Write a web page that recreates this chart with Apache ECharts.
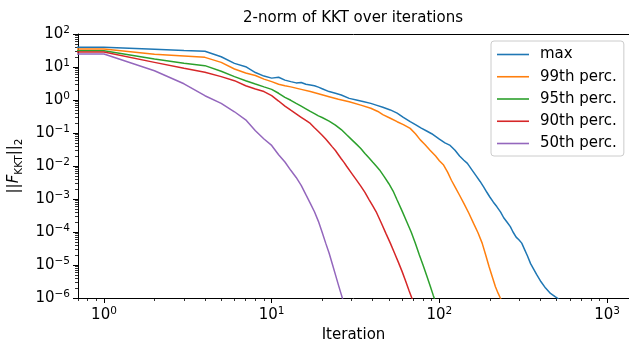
<!DOCTYPE html>
<html><head><meta charset="utf-8">
<script src="https://cdn.jsdelivr.net/npm/echarts@6/dist/echarts.min.js"></script>
<style>html,body{margin:0;padding:0;background:#fff}#c{width:629px;height:341px}</style>
</head><body><div id="c"></div>
<script>
// ---- data (iteration 0 shown at the far left is stored as 0.5, it lies outside the log axis and is clipped) ----
const seriesNames = ['max', '99th perc.', '95th perc.', '90th perc.', '50th perc.'];
const itersMax = [0.5,1,2,3,4,5,6,7,8,9,10,11,12,13,14,15,16,17,18,19,20,22,24,26,29,32,35,39,42,46,51,56,61,67,72,78,84,90,100,108,116,124,132,140,147,156,165,175,184,192,200,210,220,232,242,253,265,275,287,298,310,320,335,350,365,380,404,430,460,490,520];
const valsMax = [39.5,39.5,34.4,31.6,29.9,20.5,12.9,10.2,6.8,5.3,4.6,4.9,4.0,3.6,3.3,3.4,3.0,2.85,2.7,2.45,2.2,1.8,1.6,1.42,1.12,1.0,0.9,0.79,0.7,0.6,0.5,0.4,0.3,0.22,0.18,0.14,0.115,0.095,0.065,0.05,0.042,0.03,0.02,0.015,0.012,0.0078,0.0052,0.0034,0.0023,0.0016,0.00115,8e-4,5.9e-4,4e-4,2.7e-4,2e-4,1.45e-4,1e-4,7e-5,5.8e-5,4.6e-5,3.2e-5,1.9e-5,1.1e-5,7.5e-6,5.2e-6,3.1e-6,2e-6,1.38e-6,1.1e-6,9e-7];
const itersP99 = [0.5,1,2,3,4,5,6,7,8,9,10,11,12,13,15,17,19,22,25,29,34,39,43,46,51,56,61,67,72,77,82,88,95,100,106,112,118,124,132,140,150,160,170,180,189,198,207,216,224,231,240];
const valsP99 = [35,35,24.3,21.5,19.6,13.8,8.7,6.6,5.5,4.3,3.6,3.0,2.7,2.5,2.1,1.8,1.55,1.26,1.05,0.89,0.7,0.56,0.45,0.36,0.28,0.22,0.18,0.138,0.095,0.062,0.045,0.030,0.020,0.0145,0.0107,0.0065,0.0037,0.00234,0.0013,7.4e-4,3.7e-4,1.82e-4,9.5e-5,4.6e-5,2e-5,8.9e-6,4.3e-6,2.2e-6,1.4e-6,1e-6,7e-7];
const itersP95 = [0.5,1,2,3,4,5,6,7,8,9,10,11,12,13,14,15,16,17,18,19,20,22,24,26,28,30,32,34,36,38,40,42,44,47,50,53,56,60,64,68,72,76,80,84,88,92,95];
const valsP95 = [31,31,17.4,12.9,11,7.4,5.1,3.85,3.05,2.5,2.1,1.6,1.2,0.98,0.79,0.65,0.54,0.45,0.385,0.33,0.295,0.23,0.174,0.127,0.088,0.063,0.046,0.034,0.024,0.0178,0.0132,0.010,0.0076,0.0047,0.0029,0.00174,9.3e-4,4.3e-4,2e-4,9.8e-5,4.5e-5,2e-5,9.8e-6,4.8e-6,2.4e-6,1.2e-6,7.6e-7];
const itersP90 = [0.5,1,2,3,4,5,6,7,8,9,10,11,12,13,14,15,16,17,18,19,20,21,22,23,24,25,26,27,28,30,32,34,36,38,40,42,45,48,51,54,57,60,63,66,69];
const valsP90 = [28.5,28.5,13.8,9.1,6.9,5.1,3.85,2.7,2.15,1.8,1.35,0.93,0.65,0.49,0.38,0.30,0.24,0.195,0.145,0.111,0.086,0.066,0.050,0.038,0.0295,0.022,0.0166,0.0129,0.0098,0.006,0.0038,0.00245,0.00158,9.8e-4,6.3e-4,4.1e-4,1.9e-4,9.1e-5,4.6e-5,2.3e-5,1.2e-5,6.3e-6,3.2e-6,1.66e-6,9.1e-7];
const itersP50 = [0.5,1,2,3,4,5,6,7,8,9,10,11,12,13,14,15,16,17,18,19,20,21,22,23,24,25,26,27];
const valsP50 = [24.8,24.8,7.7,3.1,1.35,0.79,0.44,0.25,0.117,0.066,0.042,0.022,0.0132,0.0074,0.0045,0.0026,0.00135,7.4e-4,4.1e-4,2.1e-4,9.8e-5,4.6e-5,2.3e-5,1.07e-5,5.1e-6,2.5e-6,1.29e-6,6.8e-7];
const xTicks = [1, 10, 100, 1000];
const yTicks = [1e-6, 1e-5, 1e-4, 1e-3, 1e-2, 1e-1, 1, 10, 100];
const xMin = 0.7, xMax = 1352, yMin = 1e-6, yMax = 100;

// ---- styling ----
const FONT = 'DejaVu Sans';
const colors = ['#1f77b4', '#ff7f0e', '#2ca02c', '#d62728', '#9467bd'];
const allIters = [itersMax, itersP99, itersP95, itersP90, itersP50];
const allVals = [valsMax, valsP99, valsP95, valsP90, valsP50];

function minorTicks(lo, hi) {
  const out = [];
  for (let d = lo; d <= hi; d++) for (let m = 2; m <= 9; m++) out.push(m * Math.pow(10, d));
  return out;
}
const xMinor = minorTicks(-1, 3);
const yMinor = minorTicks(-7, 2);

function powLabel(v) {
  const e = Math.round(Math.log10(v));
  return '{b|10}{e|' + (e < 0 ? '\u2212' + (-e) : String(e)) + '}';
}
const powRich = {
  b: { fontSize: 15, fontFamily: FONT, color: '#000', lineHeight: 18 },
  e: { fontSize: 10.5, fontFamily: FONT, color: '#000', verticalAlign: 'top', lineHeight: 11 }
};
const lineSty = { color: '#000', width: 1 };

const grid = { left: 78, right: 0, top: 34, bottom: 43, containLabel: false, outerBoundsMode: 'none' };

const option = {
  animation: false,
  backgroundColor: '#fff',
  title: {
    text: '2-norm of KKT over iterations',
    left: 243, top: 11, padding: 0,
    textStyle: { fontFamily: FONT, fontSize: 15, fontWeight: 'normal', color: '#000' }
  },
  legend: {
    data: seriesNames,
    orient: 'vertical', left: 491, top: 41,
    padding: [6, 7, 5, 6], itemGap: 7.25,
    itemWidth: 32, itemHeight: 1.6, icon: 'rect',
    backgroundColor: 'rgba(255,255,255,0.8)', borderColor: '#cccccc', borderWidth: 1, borderRadius: 3,
    textStyle: { fontFamily: FONT, fontSize: 15, lineHeight: 15, color: '#000', padding: [0, 0, 0, 6] }
  },
  grid: grid,
  xAxis: [
    {
      type: 'log', logBase: 10, min: xMin, max: xMax, position: 'bottom',
      name: 'Iteration', nameLocation: 'middle', nameGap: 26,
      nameTextStyle: { fontFamily: FONT, fontSize: 15, color: '#000' },
      axisLine: { show: true, lineStyle: lineSty },
      axisTick: { show: true, customValues: xTicks, length: 5, inside: false, lineStyle: lineSty },
      axisLabel: { customValues: xTicks, formatter: powLabel, rich: powRich, margin: 8 },
      splitLine: { show: false }, minorTick: { show: false }
    },
    {
      type: 'log', logBase: 10, min: xMin, max: xMax, position: 'bottom',
      axisLine: { show: false },
      axisTick: { show: true, customValues: xMinor, length: 3, lineStyle: { color: '#000', width: 0.8 } },
      axisLabel: { show: false }, splitLine: { show: false }
    },
    {
      type: 'log', logBase: 10, min: xMin, max: xMax, position: 'top',
      axisLine: { show: true, lineStyle: lineSty },
      axisTick: { show: false }, axisLabel: { show: false }, splitLine: { show: false }
    }
  ],
  yAxis: [
    {
      type: 'log', logBase: 10, min: yMin, max: yMax, position: 'left',
      name: '{a|||}{f|F}{s|KKT}{a|||}{s|2}', nameLocation: 'middle', nameRotate: 90, nameGap: 45,
      nameTextStyle: {
        rich: {
          a: { fontFamily: FONT, fontSize: 15, color: '#000', lineHeight: 20 },
          f: { fontFamily: FONT, fontSize: 15, fontStyle: 'italic', color: '#000', lineHeight: 20 },
          s: { fontFamily: FONT, fontSize: 10.5, color: '#000', verticalAlign: 'bottom', lineHeight: 12 }
        }
      },
      axisLine: { show: true, lineStyle: lineSty },
      axisTick: { show: true, customValues: yTicks, length: 5, lineStyle: lineSty },
      axisLabel: { customValues: yTicks, formatter: powLabel, rich: powRich, margin: 8 },
      splitLine: { show: false }
    },
    {
      type: 'log', logBase: 10, min: yMin, max: yMax, position: 'left',
      axisLine: { show: false },
      axisTick: { show: true, customValues: yMinor, length: 3, lineStyle: { color: '#000', width: 0.8 } },
      axisLabel: { show: false }, splitLine: { show: false }
    }
  ],
  series: seriesNames.map((name, i) => ({
    name: name, type: 'line', xAxisIndex: 0, yAxisIndex: 0,
    data: allIters[i].map((x, j) => [x, allVals[i][j]]),
    showSymbol: false, symbol: 'none', clip: true,
    lineStyle: { color: colors[i], width: 1.5 },
    itemStyle: { color: colors[i] },
    emphasis: { disabled: true }
  }))
};

const chart = echarts.init(document.getElementById('c'), null, { renderer: 'canvas' });
chart.setOption(option);
</script>
</body></html>
